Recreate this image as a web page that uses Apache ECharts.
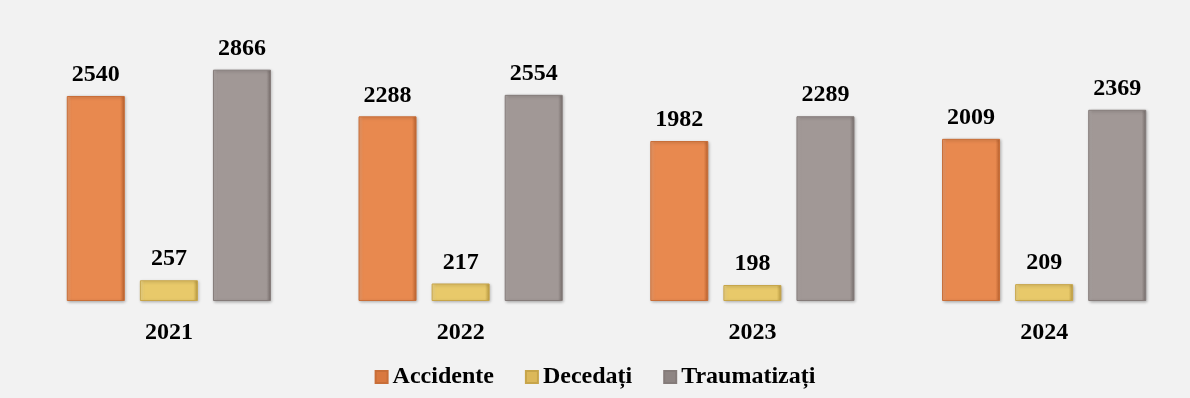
<!DOCTYPE html>
<html><head><meta charset="utf-8">
<script src="https://cdn.jsdelivr.net/npm/echarts@6/dist/echarts.min.js"></script>
<style>html,body{margin:0;padding:0;background:#f2f2f2}#c{width:1190px;height:398px}</style>
</head><body><div id="c"></div>
<script>
const categories = ['2021', '2022', '2023', '2024'];
const seriesNames = ['Accidente', 'Decedați', 'Traumatizați'];
const accidente = [2540, 2288, 1982, 2009];
const decedati = [257, 217, 198, 209];
const traumatizati = [2866, 2554, 2289, 2369];

const FONT = '"Liberation Serif", "Times New Roman", serif';
function grad(light, mid, dark) {
  return new echarts.graphic.LinearGradient(0, 0, 1, 0, [
    {offset: 0, color: light}, {offset: 0.08, color: mid},
    {offset: 0.92, color: mid}, {offset: 1, color: dark}
  ]);
}
const styles = [
  {color: grad('#f0a070', '#e8894f', '#b8602d'), border: '#c86e38', legend: '#d9783f'},
  {color: grad('#f5dc8c', '#e8c96a', '#b99a40'), border: '#c7a54a', legend: '#dcb85a'},
  {color: grad('#b5adab', '#a19896', '#776e6c'), border: '#857c7a', legend: '#8e8583'}
];
const data = [accidente, decedati, traumatizati];

const chart = echarts.init(document.getElementById('c'));
chart.setOption({
  backgroundColor: '#f2f2f2',
  animation: false,
  grid: {left: 23, width: 1172, top: 18.5, bottom: 97, containLabel: false},
  legend: {
    bottom: 4, left: 'center', itemWidth: 12, itemHeight: 12, itemGap: 31,
    textStyle: {fontFamily: FONT, fontWeight: 'bold', fontSize: 24, color: '#000'},
    data: seriesNames.map((n, i) => ({name: n, icon: 'rect', itemStyle: {color: styles[i].legend}}))
  },
  xAxis: {
    type: 'category', data: categories,
    axisLine: {show: false}, axisTick: {show: false},
    axisLabel: {fontFamily: FONT, fontWeight: 'bold', fontSize: 24, color: '#000', margin: 20}
  },
  yAxis: {type: 'value', min: 0, max: 3500, show: false, splitLine: {show: false}},
  series: seriesNames.map((n, i) => ({
    name: n, type: 'bar', data: data[i], barWidth: 58, barGap: '26%',
    itemStyle: {color: styles[i].color, borderColor: styles[i].border, borderWidth: 1,
      shadowColor: 'rgba(0,0,0,0.25)', shadowBlur: 3, shadowOffsetX: 1, shadowOffsetY: 1},
    label: {show: true, position: 'top', distance: 9, fontFamily: FONT, fontWeight: 'bold', fontSize: 24, color: '#000'}
  }))
});
</script></body></html>
